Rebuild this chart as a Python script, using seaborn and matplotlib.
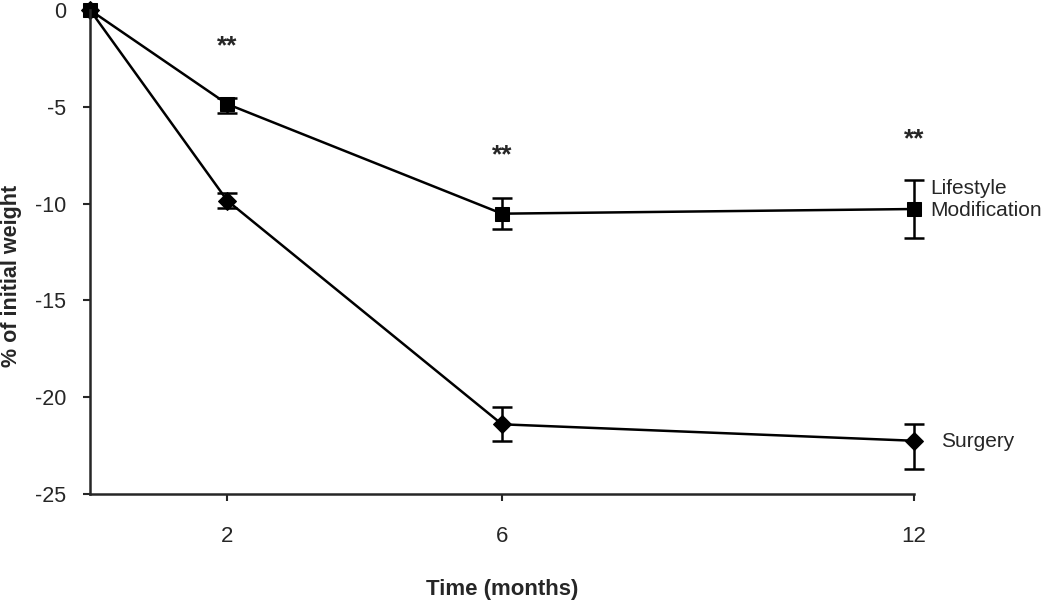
import matplotlib
matplotlib.use("Agg")
import matplotlib.pyplot as plt
import seaborn as sns
import pandas as pd

months = [0, 2, 6, 12]
lifestyle = [0, -4.86, -10.52, -10.28]
lifestyle_err_lo = [0, 0.45, 0.8, 1.52]
lifestyle_err_hi = [0, 0.3, 0.8, 1.52]
surgery = [0, -9.85, -21.4, -22.25]
surgery_err_lo = [0, 0.4, 0.88, 1.45]
surgery_err_hi = [0, 0.4, 0.88, 0.85]
star_months = [2, 6, 12]
star_y = [-1.9, -7.5, -6.7]

sns.set_style("ticks")
plt.rcParams['font.family'] = ['Liberation Sans', 'DejaVu Sans']
plt.rcParams['axes.unicode_minus'] = False

df = pd.DataFrame({
    "month": months * 2,
    "change": lifestyle + surgery,
    "group": ["Lifestyle"] * 4 + ["Surgery"] * 4,
})

fig = plt.figure(figsize=(10.5, 6.02), dpi=100)
ax = fig.add_axes([90 / 1050, 1 - 494 / 602, (914 - 90) / 1050, (494 - 10) / 602])

sns.lineplot(data=df, x="month", y="change", style="group", markers={"Lifestyle": "s", "Surgery": "D"},
             dashes=False, color="black", linewidth=1.8, markersize=9.5, legend=False, ax=ax)
for ln in ax.lines:
    ln.set_markeredgecolor("black")
    ln.set_markerfacecolor("black")
    ln.set_clip_on(False)

ax.errorbar(months[1:], lifestyle[1:], yerr=[lifestyle_err_lo[1:], lifestyle_err_hi[1:]], fmt="none",
            ecolor="black", elinewidth=1.8, capsize=7, capthick=1.8, clip_on=False)
ax.errorbar(months[1:], surgery[1:], yerr=[surgery_err_lo[1:], surgery_err_hi[1:]], fmt="none",
            ecolor="black", elinewidth=1.8, capsize=7, capthick=1.8, clip_on=False)

for m, y in zip(star_months, star_y):
    ax.text(m, y, "**", ha="center", va="center", fontsize=19, fontweight="bold")

ax.text(12.23, -9.8, "Lifestyle\nModification", ha="left", va="center", fontsize=15, linespacing=1.2)
ax.text(12.4, -22.3, "Surgery", ha="left", va="center", fontsize=15)

ax.set_xlim(0, 12)
ax.set_ylim(-25, 0)
ax.set_xticks([2, 6, 12])
ax.set_yticks([0, -5, -10, -15, -20, -25])
ax.tick_params(axis="x", length=5, width=1.5, pad=18, labelsize=16)
ax.tick_params(axis="y", length=5, width=1.5, pad=12, labelsize=15.5)
for side in ["left", "bottom"]:
    ax.spines[side].set_linewidth(1.8)
sns.despine(ax=ax)

ax.set_xlabel("Time (months)", fontsize=16, fontweight="bold")
ax.set_ylabel("% of initial weight", fontsize=15.5, fontweight="bold")
ax.xaxis.set_label_coords(0.5, -0.175)
ax.yaxis.set_label_coords(-0.082, 0.45)

fig.savefig("out.png", dpi=100)
